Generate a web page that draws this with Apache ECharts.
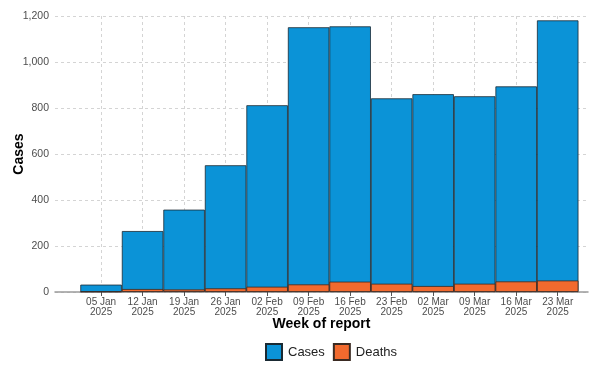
<!DOCTYPE html>
<html><head><meta charset="utf-8">
<script src="https://cdn.jsdelivr.net/npm/echarts@6/dist/echarts.min.js"></script>
<style>html,body{margin:0;padding:0;background:#fff}#c{width:602px;height:372px}</style>
</head><body><div id="c"></div>
<script>
const weeks = ['05 Jan\n2025','12 Jan\n2025','19 Jan\n2025','26 Jan\n2025','02 Feb\n2025','09 Feb\n2025','16 Feb\n2025','23 Feb\n2025','02 Mar\n2025','09 Mar\n2025','16 Mar\n2025','23 Mar\n2025'];
const cases = [32, 265, 358, 551, 812, 1151, 1155, 842, 860, 851, 894, 1181];
const deaths = [2, 13, 11, 16, 23, 33, 45, 36, 26, 36, 46, 50];
const yTicks = [0, 200, 400, 600, 800, 1000, 1200];

const idx = weeks.map((_, i) => i);
const chart = echarts.init(document.getElementById('c'));
const txt = '#4d4d4d';
chart.setOption({
  animation: false,
  grid: {left: 55, right: 14, top: 16, bottom: 80, containLabel: false, outerBoundsMode: 'none'},
  xAxis: {
    type: 'value', min: -1.11, max: 11.73,
    name: 'Week of report', nameLocation: 'middle', nameGap: 25, nameMoveOverlap: false,
    nameTextStyle: {fontFamily: 'Liberation Sans', fontWeight: 'bold', fontSize: 14, color: '#000'},
    axisLine: {show: true, lineStyle: {color: '#9a9a9a', width: 1.5}},
    axisTick: {show: true, customValues: idx, length: 4, lineStyle: {color: '#555'}},
    axisLabel: {customValues: idx, formatter: v => weeks[Math.round(v)], color: txt, fontFamily: 'Liberation Sans', fontSize: 10, lineHeight: 10, margin: 5},
    splitLine: {show: true, lineStyle: {type: [3, 3], color: '#d4d4d4'}}
  },
  yAxis: {
    type: 'value', min: 0, max: 1200, interval: 200,
    name: 'Cases', nameLocation: 'middle', nameGap: 29, nameRotate: 90, nameMoveOverlap: false,
    nameTextStyle: {fontFamily: 'Liberation Sans', fontWeight: 'bold', fontSize: 14, color: '#000'},
    axisLine: {show: false}, axisTick: {show: false},
    axisLabel: {color: txt, fontFamily: 'Liberation Sans', fontSize: 10.5, margin: 6,
      formatter: v => v.toLocaleString('en-US')},
    splitLine: {show: true, lineStyle: {type: [3, 3], color: '#d4d4d4'}}
  },
  legend: {
    bottom: 6, left: 260, itemWidth: 16, itemHeight: 16, itemGap: 8, icon: 'rect',
    textStyle: {fontFamily: 'Liberation Sans', fontSize: 13, color: '#222', padding: [0, 0, 0, 1]},
    data: ['Cases', 'Deaths']
  },
  series: [
    {name: 'Cases', type: 'bar', barWidth: 41.5, barGap: '-100%',
     data: cases.map((v, i) => [i, v]),
     itemStyle: {color: '#0b93d7', borderColor: '#1a2a33', borderWidth: 0.8}},
    {name: 'Deaths', type: 'bar', barWidth: 41.5, barGap: '-100%',
     data: deaths.map((v, i) => [i, v]),
     itemStyle: {color: '#f26a2e', borderColor: '#3a2a22', borderWidth: 0.8}}
  ]
});
</script></body></html>
